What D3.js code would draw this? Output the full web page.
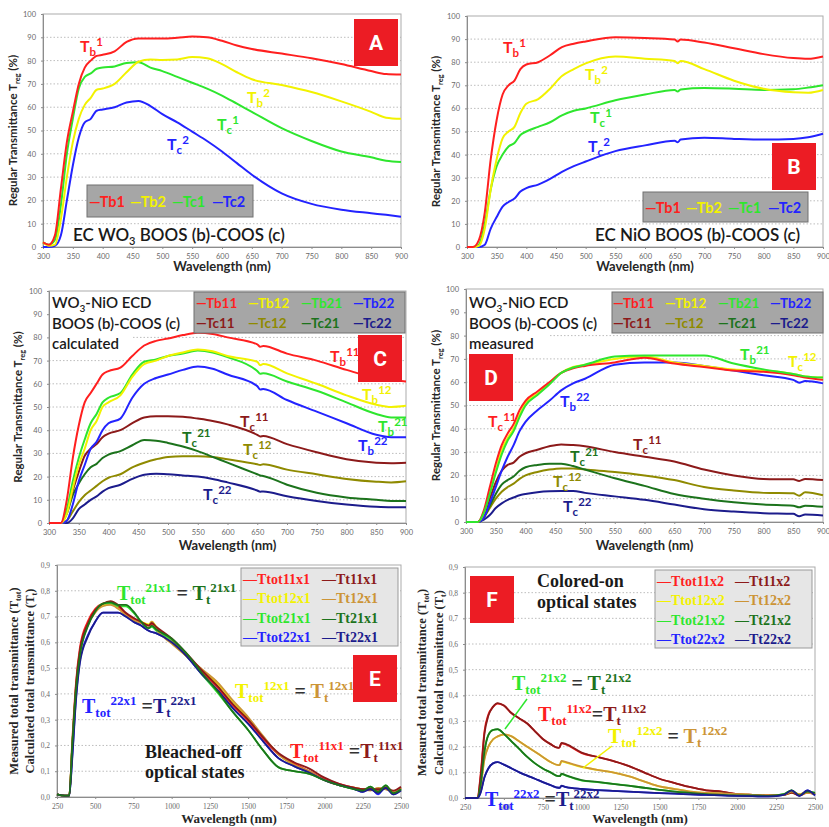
<!DOCTYPE html>
<html>
<head>
<meta charset="utf-8">
<script src="https://cdn.jsdelivr.net/npm/d3@7"></script>
<style>
  body { margin: 0; background: #fff; }
  svg { display: block; }
</style>
</head>
<body>
<svg id="chart" width="829" height="827"></svg>
<script>
// ---------- data ----------

// A : EC WO3
var wlA = [300,310,320,330,340,350,360,370,380,390,400,420,440,460,480,500,525,550,575,600,625,650,700,750,800,850,875,900];
var aTb1 = [2,1,5,25,45,58,70,77,80,82,82.5,84,88,89.5,89.5,89.5,89.8,90.3,90,88.5,86.5,85,83,81,78.5,75.5,74.2,74];
var aTb2 = [2,0.5,1,12,30,45,55,61,64,67.5,68,70,75,79.5,80.5,80.3,80.5,81.5,81,78.5,75,72,69.5,66.5,62.5,58,55.5,55];
var aTc1 = [2,1,3,18,40,55,68,73,74.5,76.5,77,77.5,79,79.3,77,75.5,73,70.5,68,65,61.5,58,51,45.5,41,38.5,37,36.5];
var aTc2 = [0,0,0.5,5,20,35,47,53.5,55,58.5,59,60,62,62.7,60.5,57,53.5,49.5,45.5,41,36,31,23,18.5,16,14.5,13.8,13];

// B : EC NiO
var wlB = [300,310,320,330,340,350,360,370,380,390,400,420,440,460,480,500,550,600,650,655,660,700,750,800,850,875,900];
var bTb1 = [0,0,3,15,38,55,66,70,72,77,79,80,83,86.5,88,89,90.8,90.5,89.8,89,89.8,88.5,86,83.5,81.8,81.5,82.5];
var bTb2 = [0,0,0.5,8,25,38,47,50,52,58,62,64,68.5,74,77,79.5,82.5,81.5,80.5,79.5,80.5,77,72,68.5,67,66.8,68];
var bTc1 = [0,0,1,10,25,35,40,43.5,45,48.5,50,52,54,57,59,60,63.5,66,68,67.3,68.2,68.8,68.5,68,68.3,69,70];
var bTc2 = [0,0,0,1,8,13,17.5,19.5,21,24,25.5,27,29.5,32.5,35,37,41.5,44,46,45.3,46.5,47.3,46.8,46.5,46.8,47.5,49];

// C : WO3-NiO ECD calculated
var wlC = [300,320,330,340,350,360,370,380,390,400,420,440,460,480,500,525,550,575,600,650,655,660,700,750,800,850,875,900];
var cTb11 = [0,0,10,28,42,52,56,60,64,65.5,67,72,76.5,78.5,79.5,81,82,81.5,80,77,76,76.3,73,70,66,62.5,61.5,61];
var cTb12 = [0,0,4,15,25,32,40,44,50,52,55,63,68.5,70,72,73.5,74.8,74,72,69.5,68,68.5,64.5,60,55,51,50,50.5];
var cTb21 = [0,0,6,18,28,36,43,47,52,54,56,64,69.5,70.5,72,73,74.3,73.5,71.5,65.5,64.3,64.5,61,57,52,47,45.5,45.5];
var cTb22 = [0,0,1,8,18,25,32,35,40,43,45,54,60,62.5,64,66,67.5,66.5,64,59,57.5,57.8,53,48,43,38,37,37];
var cTc11 = [0,0,5,14,22,29,32,34,37,38.5,40,43,45.5,46,46,45.8,45,44,42.5,38,37.3,37.5,34,30.5,27.5,26,25.8,26];
var cTc12 = [0,0,1,5,9,12,14,16,18,19.5,21,24,26,27.5,28.5,28.8,28.8,28.5,27.5,25.3,25,25.3,23,21,19,17.8,17.5,18];
var cTc21 = [0,0,4,12,17,21,24,25.5,28,29.5,31,33.5,35.8,35.5,34.5,33,31,28.5,26,21,20.5,20.3,16.5,13,11,10,9.5,9.5];
var cTc22 = [0,0,0,2,6,8,10,11.5,13.5,15,16.5,19,20.8,21.2,21,20.5,20,19,17.5,14,13.5,13.6,11.5,9.5,8,7,6.8,6.8];

// D : WO3-NiO ECD measured
var wlD = [300,320,330,340,350,360,370,380,390,400,420,440,460,480,500,550,600,650,700,750,800,850,860,870,900];
var dTb11 = [0,0,5,15,25,33,38,42,48,52,56,60,64,66,67,68.5,70.5,68,66.5,65,64.5,63,62.5,62,61];
var dTb12 = [0,0,4,13,22,31,36,40,46,51,55,59.5,64,66.5,67.5,70,71,68.5,67,65.5,65,63.5,63,62.5,62];
var dTb21 = [0,0,4,12,21,29,35,39,45,50,54.5,59,64,66.3,67.5,71,71.5,71.5,71.5,68,65.5,63.5,63,62.5,62];
var dTb22 = [0,0,2,8,15,22,28,33,39,43,48,52,56.5,59.5,61.5,67.5,68.5,68.5,67,65,63,61,59.8,60.5,59.5];
var dTc11 = [0,0,3,10,17,22,24.5,25.5,28,29.5,31,32.5,33.3,33,32.5,30,28,26,22.5,20,18.5,18.3,17.6,18.5,18];
var dTc12 = [0,0,2,6,10,13,15,16.5,18.5,20,21.5,22.5,23,23,22.5,21.5,20,18,15,13.5,12.5,12.3,11.3,12.8,11.5];
var dTc21 = [0,0,2,7,12,16,18,19.5,22,23.5,24.5,25,25,24,22.5,18.8,15.5,12,10,8.5,7.5,7,6.3,7,6.5];
var dTc22 = [0,0,1,3,6,8,9.5,10.5,11.5,12,12.8,13.2,13.3,13.3,12.5,11,9.5,7.5,5.5,4.5,3.8,3.5,2.5,3.2,2.8];

// E : bleached-off total transmittance
var wlE = [250,300,330,350,375,400,450,500,550,600,650,700,750,800,850,870,900,1000,1100,1200,1300,1400,1500,1600,1700,1800,1900,2000,2100,2200,2250,2300,2350,2400,2450,2500];
var eTtot11 = [0.01,0.005,0.005,0.22,0.45,0.58,0.68,0.73,0.75,0.755,0.74,0.71,0.69,0.675,0.665,0.67,0.655,0.61,0.55,0.485,0.425,0.355,0.295,0.225,0.165,0.13,0.1,0.07,0.05,0.035,0.03,0.035,0.025,0.04,0.02,0.035];
var eTt11 = [0.01,0.005,0.005,0.2,0.44,0.57,0.67,0.725,0.75,0.76,0.745,0.715,0.695,0.68,0.665,0.675,0.66,0.615,0.555,0.49,0.43,0.36,0.3,0.23,0.17,0.135,0.11,0.075,0.05,0.035,0.03,0.03,0.03,0.035,0.025,0.04];
var eTtot12 = [0.01,0.005,0.005,0.2,0.43,0.56,0.67,0.72,0.745,0.75,0.735,0.71,0.69,0.68,0.67,0.68,0.66,0.6,0.545,0.49,0.44,0.37,0.305,0.23,0.165,0.125,0.1,0.065,0.045,0.035,0.03,0.03,0.025,0.035,0.02,0.03];
var eTt12 = [0.01,0.005,0.005,0.2,0.42,0.55,0.665,0.715,0.74,0.745,0.73,0.705,0.685,0.675,0.665,0.68,0.65,0.595,0.545,0.495,0.445,0.375,0.31,0.235,0.165,0.125,0.1,0.065,0.045,0.035,0.03,0.025,0.035,0.03,0.02,0.035];
var eTtot21 = [0.01,0.005,0.005,0.21,0.43,0.56,0.665,0.72,0.75,0.75,0.74,0.74,0.715,0.68,0.655,0.66,0.645,0.61,0.55,0.475,0.405,0.33,0.26,0.18,0.115,0.1,0.09,0.065,0.045,0.03,0.025,0.04,0.02,0.045,0.015,0.03];
var eTt21 = [0.01,0.005,0.005,0.2,0.42,0.55,0.66,0.72,0.75,0.755,0.745,0.745,0.72,0.68,0.655,0.665,0.65,0.615,0.555,0.48,0.41,0.33,0.26,0.18,0.115,0.1,0.09,0.065,0.045,0.03,0.025,0.04,0.02,0.045,0.015,0.03];
var eTtot22 = [0.01,0.005,0.005,0.16,0.39,0.53,0.625,0.68,0.715,0.715,0.715,0.7,0.68,0.665,0.645,0.64,0.635,0.6,0.545,0.475,0.415,0.345,0.285,0.215,0.15,0.12,0.095,0.065,0.045,0.03,0.02,0.035,0.01,0.04,0.01,0.03];
var eTt22 = [0.01,0.005,0.005,0.15,0.38,0.52,0.62,0.68,0.715,0.715,0.715,0.7,0.68,0.665,0.645,0.64,0.635,0.6,0.545,0.475,0.415,0.345,0.285,0.215,0.15,0.12,0.095,0.065,0.045,0.03,0.02,0.03,0.015,0.035,0.01,0.025];

// F : colored-on total transmittance
var wlF = [250,300,330,350,375,400,430,460,500,550,600,650,700,750,800,850,860,870,900,1000,1100,1200,1300,1400,1500,1600,1700,1800,1900,2000,2100,2200,2300,2350,2400,2450,2500];
var fTtot11 = [0,0,0,0.09,0.26,0.325,0.355,0.368,0.36,0.33,0.31,0.29,0.26,0.23,0.21,0.195,0.2,0.213,0.208,0.175,0.16,0.145,0.125,0.1,0.075,0.058,0.042,0.03,0.025,0.015,0.012,0.01,0.012,0.025,0.01,0.02,0.015];
var fTt11 = [0,0,0,0.08,0.25,0.32,0.355,0.37,0.36,0.33,0.31,0.29,0.26,0.23,0.21,0.195,0.2,0.215,0.21,0.177,0.16,0.145,0.125,0.1,0.075,0.058,0.042,0.03,0.025,0.015,0.012,0.01,0.012,0.02,0.01,0.025,0.015];
var fTtot12 = [0,0,0,0.045,0.155,0.2,0.228,0.24,0.247,0.24,0.22,0.2,0.18,0.16,0.14,0.128,0.13,0.143,0.138,0.12,0.11,0.1,0.085,0.065,0.045,0.035,0.025,0.02,0.018,0.015,0.012,0.01,0.012,0.02,0.015,0.025,0.015];
var fTt12 = [0,0,0,0.04,0.15,0.2,0.228,0.24,0.248,0.24,0.22,0.2,0.18,0.16,0.14,0.128,0.13,0.145,0.14,0.122,0.11,0.1,0.085,0.065,0.045,0.035,0.025,0.02,0.018,0.015,0.012,0.01,0.012,0.025,0.015,0.02,0.015];
var fTtot21 = [0,0,0,0.055,0.185,0.245,0.265,0.267,0.25,0.22,0.19,0.16,0.135,0.115,0.1,0.085,0.085,0.093,0.087,0.068,0.062,0.055,0.048,0.04,0.032,0.025,0.02,0.015,0.012,0.01,0.01,0.008,0.015,0.03,0.01,0.025,0.02];
var fTt21 = [0,0,0,0.05,0.18,0.245,0.265,0.268,0.25,0.22,0.19,0.16,0.135,0.115,0.1,0.085,0.085,0.095,0.088,0.07,0.063,0.055,0.048,0.04,0.032,0.025,0.02,0.015,0.012,0.01,0.01,0.008,0.015,0.03,0.01,0.025,0.02];
var fTtot22 = [0,0,0,0.022,0.082,0.115,0.135,0.14,0.13,0.115,0.1,0.087,0.075,0.062,0.05,0.04,0.04,0.047,0.042,0.035,0.031,0.028,0.025,0.022,0.019,0.017,0.014,0.012,0.01,0.008,0.007,0.006,0.012,0.025,0.008,0.03,0.01];
var fTt22 = [0,0,0,0.02,0.08,0.115,0.135,0.14,0.13,0.115,0.1,0.087,0.075,0.062,0.05,0.04,0.04,0.048,0.042,0.035,0.031,0.028,0.025,0.022,0.019,0.017,0.014,0.012,0.01,0.008,0.007,0.006,0.012,0.03,0.008,0.03,0.01];

// ticks
var xTicksAD = [300,350,400,450,500,550,600,650,700,750,800,850,900];
var yTicksAD = [0,10,20,30,40,50,60,70,80,90,100];
var xTicksEF = [250,500,750,1000,1250,1500,1750,2000,2250,2500];
var yTicksEF = [0,0.1,0.2,0.3,0.4,0.5,0.6,0.7,0.8,0.9];

// ---------- styles ----------
var SANS = "Lato, 'Open Sans', sans-serif";
var SERIF = "'Liberation Serif', 'DejaVu Serif', serif";
var col = {
  red: "#ff1f1f", yellow: "#f2f200", green: "#2ee62e", blue: "#2323ff",
  dred: "#8c1a1a", olive: "#8f8a00", dgreen: "#1c731c", navy: "#1c1c8c", orange: "#cc9436"
};

var svg = d3.select("#chart");

function drawPanel(p) {
  var x = d3.scaleLinear().domain(p.xDomain).range([p.x0, p.x1]);
  var y = d3.scaleLinear().domain(p.yDomain).range([p.y1, p.y0]);
  var g = svg.append("g");

  // dotted horizontal grid
  g.selectAll("line.grid").data(p.yTicks.slice(1, -1)).join("line")
    .attr("x1", p.x0).attr("x2", p.x1)
    .attr("y1", function (d) { return y(d); }).attr("y2", function (d) { return y(d); })
    .attr("stroke", "#bdbdbd").attr("stroke-width", 1).attr("stroke-dasharray", "1.5,2");

  g.append("rect")
    .attr("x", p.x0).attr("y", p.y0).attr("width", p.x1 - p.x0).attr("height", p.y1 - p.y0)
    .attr("fill", "none").attr("stroke", "#ababab");

  var xa = g.append("g").attr("transform", "translate(0," + p.y1 + ")")
    .call(d3.axisBottom(x).tickValues(p.xTicks).tickSize(2).tickPadding(5).tickFormat(d3.format("d")));
  var ya = g.append("g").attr("transform", "translate(" + p.x0 + ",0)")
    .call(d3.axisLeft(y).tickValues(p.yTicks).tickSize(2).tickPadding(5).tickFormat(p.yFormat));
  [xa, ya].forEach(function (a) {
    a.select(".domain").attr("stroke", "#8c8c8c");
    a.selectAll(".tick line").attr("stroke", "#8c8c8c");
    a.selectAll("text").attr("font-family", p.tickFont).attr("font-size", 7.5).attr("fill", "#6a6a6a");
  });

  var line = d3.line()
    .x(function (d) { return x(d[0]); })
    .y(function (d) { return y(d[1]); })
    .curve(d3.curveMonotoneX);

  p.series.forEach(function (s) {
    g.append("path")
      .datum(p.wl.map(function (w, i) { return [w, s.values[i]]; }))
      .attr("d", line)
      .attr("fill", "none")
      .attr("stroke", s.color)
      .attr("stroke-width", p.lineWidth || 2)
      .attr("stroke-linejoin", "round");
  });

  // axis titles
  g.append("text")
    .attr("x", (p.x0 + p.x1) / 2).attr("y", p.xTitleY)
    .attr("text-anchor", "middle")
    .attr("font-family", p.titleFont).attr("font-weight", "bold").attr("font-size", 13).attr("fill", "#262626")
    .text("Wavelength (nm)");

  p.yTitles.forEach(function (yt) {
    var t = g.append("text")
      .attr("transform", "translate(" + yt.x + "," + ((p.y0 + p.y1) / 2) + ") rotate(-90)")
      .attr("text-anchor", "middle")
      .attr("font-family", p.titleFont).attr("font-weight", "bold").attr("font-size", yt.size).attr("fill", "#262626");
    t.append("tspan").text(yt.main);
    t.append("tspan").attr("dy", 3).attr("font-size", yt.size * 0.65).text(yt.sub);
    t.append("tspan").attr("dy", -3).text(yt.tail);
  });
  return g;
}

function letterBox(x, y, letter) {
  svg.append("rect").attr("x", x).attr("y", y).attr("width", 44).attr("height", 47).attr("fill", "#ec1c24");
  svg.append("text").attr("x", x + 22).attr("y", y + 31).attr("text-anchor", "middle")
    .attr("font-family", "'Liberation Sans Narrow', Roboto, sans-serif").attr("font-weight", "bold")
    .attr("font-size", 21).attr("fill", "#fff").text(letter);
}

// T with subscript and superscript (panels A-D)
function tLabel(x, y, sub, sup, color) {
  var t = svg.append("text").attr("x", x).attr("y", y)
    .attr("font-family", SANS).attr("font-weight", "bold").attr("font-size", 16).attr("fill", color);
  t.append("tspan").text("T");
  t.append("tspan").attr("dy", 4).attr("font-size", 11.5).text(sub);
  t.append("tspan").attr("dy", -10).attr("font-size", 11.5).text(sup);
}

// Ttot^code = Tt^code  (panels E-F)
function eqLabel(x, y, code, c1, c2, eq) {
  var t = svg.append("text").attr("x", x).attr("y", y)
    .attr("font-family", SERIF).attr("font-weight", "bold").attr("font-size", 20);
  t.append("tspan").attr("fill", c1).text("T");
  t.append("tspan").attr("fill", c1).attr("dy", 4).attr("font-size", 13).text("tot");
  t.append("tspan").attr("fill", c1).attr("dy", -12).attr("font-size", 13).text(code);
  t.append("tspan").attr("fill", "#333").attr("dy", 8).text(eq);
  t.append("tspan").attr("fill", c2).text("T");
  t.append("tspan").attr("fill", c2).attr("dy", 4).attr("font-size", 13).text("t");
  t.append("tspan").attr("fill", c2).attr("dy", -12).attr("font-size", 13).text(code);
}

function legendRow(items, y, font, size) {
  items.forEach(function (it) {
    svg.append("text").attr("x", it.x).attr("y", y)
      .attr("font-family", font).attr("font-weight", "bold").attr("font-size", size)
      .attr("fill", it.color).text("\u2014" + it.name);
  });
}

var tickFmtEF = function (d) { return d3.format(".1f")(d).replace(".", ","); };
var regTitle = function (x) { return [{ x: x, size: 11.5, main: "Regular Transmittance T", sub: "reg", tail: " (%)" }]; };

// ---------- panel A ----------
drawPanel({
  x0: 43, x1: 401, y0: 14, y1: 247, xDomain: [300, 900], yDomain: [0, 100],
  xTicks: xTicksAD, yTicks: yTicksAD, tickFont: SANS, titleFont: SANS, xTitleY: 271,
  yTitles: regTitle(17), wl: wlA,
  series: [
    { values: aTc2, color: col.blue }, { values: aTc1, color: col.green },
    { values: aTb2, color: col.yellow }, { values: aTb1, color: col.red }
  ]
});
tLabel(80, 52, "b", "1", col.red);
tLabel(247, 103, "b", "2", col.yellow);
tLabel(217, 130, "c", "1", col.green);
tLabel(167, 150, "c", "2", col.blue);
svg.append("rect").attr("x", 87).attr("y", 185).attr("width", 166).attr("height", 32)
  .attr("fill", "#a6a6a6").attr("stroke", "#707070");
legendRow([
  { x: 89, name: "Tb1", color: col.red }, { x: 130, name: "Tb2", color: col.yellow },
  { x: 172, name: "Tc1", color: col.green }, { x: 212, name: "Tc2", color: col.blue }
], 207, SANS, 14.5);
svg.append("text").attr("x", 73).attr("y", 241).attr("font-family", SANS).attr("font-size", 17)
  .attr("fill", "#1a1a1a").attr("font-weight", 600)
  .call(function (t) {
    t.append("tspan").text("EC WO");
    t.append("tspan").attr("dy", 4).attr("font-size", 11).text("3");
    t.append("tspan").attr("dy", -4).text(" BOOS (b)-COOS (c)");
  });
letterBox(354, 19, "A");

// ---------- panel B ----------
drawPanel({
  x0: 467, x1: 823, y0: 16, y1: 247, xDomain: [300, 900], yDomain: [0, 100],
  xTicks: xTicksAD, yTicks: yTicksAD, tickFont: SANS, titleFont: SANS, xTitleY: 271,
  yTitles: regTitle(440), wl: wlB,
  series: [
    { values: bTc2, color: col.blue }, { values: bTc1, color: col.green },
    { values: bTb2, color: col.yellow }, { values: bTb1, color: col.red }
  ]
});
tLabel(503, 53, "b", "1", col.red);
tLabel(585, 80, "b", "2", col.yellow);
tLabel(590, 123, "c", "1", col.green);
tLabel(588, 152, "c", "2", col.blue);
letterBox(772, 143, "B");
svg.append("rect").attr("x", 643).attr("y", 192).attr("width", 165).attr("height", 30)
  .attr("fill", "#a6a6a6").attr("stroke", "#707070");
legendRow([
  { x: 645, name: "Tb1", color: col.red }, { x: 686, name: "Tb2", color: col.yellow },
  { x: 728, name: "Tc1", color: col.green }, { x: 768, name: "Tc2", color: col.blue }
], 213, SANS, 14.5);
svg.append("text").attr("x", 595).attr("y", 241).attr("font-family", SANS).attr("font-size", 17)
  .attr("fill", "#1a1a1a").attr("font-weight", 600).text("EC NiO BOOS (b)-COOS (c)");

// ---------- panel C ----------
drawPanel({
  x0: 49, x1: 406, y0: 291, y1: 523, xDomain: [300, 900], yDomain: [0, 100],
  xTicks: xTicksAD, yTicks: yTicksAD, tickFont: SANS, titleFont: SANS, xTitleY: 550,
  yTitles: regTitle(22), wl: wlC,
  series: [
    { values: cTc22, color: col.navy }, { values: cTc12, color: col.olive },
    { values: cTc21, color: col.dgreen }, { values: cTc11, color: col.dred },
    { values: cTb22, color: col.blue }, { values: cTb21, color: col.green },
    { values: cTb12, color: col.yellow }, { values: cTb11, color: col.red }
  ]
});

function ecdBlock(x, word) {
  svg.append("rect").attr("x", x - 2).attr("y", 292).attr("width", 144).attr("height", 40).attr("fill", "#fff");
  svg.append("rect").attr("x", x - 2).attr("y", 332).attr("width", 82).attr("height", 20).attr("fill", "#fff");
  var t = svg.append("text").attr("x", x).attr("y", 308).attr("font-family", SANS).attr("font-weight", 600)
    .attr("font-size", 15).attr("fill", "#1a1a1a");
  t.append("tspan").text("WO");
  t.append("tspan").attr("dy", 4).attr("font-size", 10).text("3");
  t.append("tspan").attr("dy", -4).text("-NiO ECD");
  svg.append("text").attr("x", x).attr("y", 329).attr("font-family", SANS).attr("font-weight", 600)
    .attr("font-size", 15).attr("fill", "#1a1a1a").text("BOOS (b)-COOS (c)");
  svg.append("text").attr("x", x).attr("y", 349).attr("font-family", SANS).attr("font-weight", 600)
    .attr("font-size", 15).attr("fill", "#1a1a1a").text(word);
}
function ecdLegend(x0, xs) {
  svg.append("rect").attr("x", x0).attr("y", 292).attr("width", 211).attr("height", 41)
    .attr("fill", "#a6a6a6").attr("stroke", "#707070");
  legendRow([
    { x: xs[0], name: "Tb11", color: col.red }, { x: xs[1], name: "Tb12", color: col.yellow },
    { x: xs[2], name: "Tb21", color: col.green }, { x: xs[3], name: "Tb22", color: col.blue }
  ], 308, SANS, 13.5);
  legendRow([
    { x: xs[0], name: "Tc11", color: col.dred }, { x: xs[1], name: "Tc12", color: col.olive },
    { x: xs[2], name: "Tc21", color: col.dgreen }, { x: xs[3], name: "Tc22", color: col.navy }
  ], 328, SANS, 13.5);
}
ecdBlock(52, "calculated");
ecdLegend(194, [196, 248, 301, 353]);
letterBox(358, 335, "C");
tLabel(330, 362, "b", "11", col.red);
tLabel(362, 400, "b", "12", col.yellow);
tLabel(378, 432, "b", "21", col.green);
tLabel(358, 451, "b", "22", col.blue);
tLabel(240, 427, "c", "11", col.dred);
tLabel(182, 443, "c", "21", col.dgreen);
tLabel(243, 455, "c", "12", col.olive);
tLabel(203, 500, "c", "22", col.navy);

// ---------- panel D ----------
drawPanel({
  x0: 466, x1: 823, y0: 289, y1: 522, xDomain: [300, 900], yDomain: [0, 100],
  xTicks: xTicksAD, yTicks: yTicksAD, tickFont: SANS, titleFont: SANS, xTitleY: 550,
  yTitles: regTitle(440), wl: wlD,
  series: [
    { values: dTc22, color: col.navy }, { values: dTc12, color: col.olive },
    { values: dTc21, color: col.dgreen }, { values: dTc11, color: col.dred },
    { values: dTb22, color: col.blue }, { values: dTb12, color: col.yellow },
    { values: dTb11, color: col.red }, { values: dTb21, color: col.green }
  ]
});
ecdBlock(469, "measured");
ecdLegend(612, [613, 665, 718, 770]);
letterBox(469, 354, "D");
tLabel(740, 360, "b", "21", col.green);
tLabel(788, 367, "c", "12", col.yellow);
tLabel(560, 407, "b", "22", col.blue);
tLabel(488, 427, "c", "11", col.red);
tLabel(633, 450, "c", "11", col.dred);
tLabel(570, 462, "c", "21", col.dgreen);
tLabel(553, 487, "c", "12", col.olive);
tLabel(563, 512, "c", "22", col.navy);

// ---------- panel E ----------
var totTitles = function (x1, x2) {
  return [
    { x: x1, size: 12.5, main: "Measured total transmittance (T", sub: "tot", tail: ")" },
    { x: x2, size: 12.5, main: "Calculated total transmittance (T", sub: "t", tail: ")" }
  ];
};
drawPanel({
  x0: 57, x1: 401, y0: 565, y1: 797, xDomain: [250, 2500], yDomain: [0, 0.9],
  xTicks: xTicksEF, yTicks: yTicksEF, yFormat: tickFmtEF, tickFont: SERIF, titleFont: SERIF, xTitleY: 823,
  yTitles: totTitles(18, 34), wl: wlE, lineWidth: 1.8,
  series: [
    { values: eTtot22, color: col.blue }, { values: eTtot12, color: col.yellow },
    { values: eTtot11, color: col.red }, { values: eTtot21, color: col.green },
    { values: eTt12, color: col.orange }, { values: eTt11, color: col.dred },
    { values: eTt22, color: col.navy }, { values: eTt21, color: col.dgreen }
  ]
});
function totLegend(x, y, xs, tag) {
  svg.append("rect").attr("x", x).attr("y", y).attr("width", 157).attr("height", 78)
    .attr("fill", "#e6e6e6").attr("stroke", "#9a9a9a");
  [["11", col.red, col.dred], ["12", col.yellow, col.orange], ["21", col.green, col.dgreen], ["22", col.blue, col.navy]]
    .forEach(function (r, i) {
      legendRow([
        { x: xs[0], name: "Ttot" + r[0] + tag, color: r[1] },
        { x: xs[1], name: "Tt" + r[0] + tag, color: r[2] }
      ], y + 16 + i * 19.3, SERIF, 14);
    });
}
totLegend(241, 568, [243, 322], "x1");
letterBox(353, 655, "E");
eqLabel(117, 600, "21x1", col.green, col.dgreen, " = ");
eqLabel(82, 713, "22x1", col.blue, col.navy, " =");
eqLabel(235, 698, "12x1", col.yellow, col.orange, "  = ");
eqLabel(290, 758, "11x1", col.red, col.dred, " =");
svg.append("text").attr("x", 145).attr("y", 758).attr("font-family", SERIF).attr("font-weight", "bold")
  .attr("font-size", 18).attr("fill", "#1a1a1a").text("Bleached-off");
svg.append("text").attr("x", 145).attr("y", 778).attr("font-family", SERIF).attr("font-weight", "bold")
  .attr("font-size", 18).attr("fill", "#1a1a1a").text("optical states");

// ---------- panel F ----------
drawPanel({
  x0: 465, x1: 815, y0: 567, y1: 798, xDomain: [250, 2500], yDomain: [0, 0.9],
  xTicks: xTicksEF, yTicks: yTicksEF, yFormat: tickFmtEF, tickFont: SERIF, titleFont: SERIF, xTitleY: 823,
  yTitles: totTitles(426, 443), wl: wlF, lineWidth: 1.8,
  series: [
    { values: fTtot11, color: col.red }, { values: fTtot12, color: col.yellow },
    { values: fTtot21, color: col.green }, { values: fTtot22, color: col.blue },
    { values: fTt11, color: col.dred }, { values: fTt12, color: col.orange },
    { values: fTt21, color: col.dgreen }, { values: fTt22, color: col.navy }
  ]
});
totLegend(655, 570, [657, 735], "x2");
letterBox(470, 576, "F");
svg.append("text").attr("x", 537).attr("y", 587).attr("font-family", SERIF).attr("font-weight", "bold")
  .attr("font-size", 18).attr("fill", "#1a1a1a").text("Colored-on");
svg.append("text").attr("x", 537).attr("y", 608).attr("font-family", SERIF).attr("font-weight", "bold")
  .attr("font-size", 18).attr("fill", "#1a1a1a").text("optical states");
eqLabel(512, 690, "21x2", col.green, col.dgreen, " = ");
eqLabel(538, 721, "11x2", col.red, col.dred, "=");
eqLabel(608, 743, "12x2", col.yellow, col.orange, " = ");
eqLabel(485, 806, "22x2", col.blue, col.navy, " =");
svg.append("line").attr("x1", 527).attr("y1", 699).attr("x2", 505).attr("y2", 729)
  .attr("stroke", col.green).attr("stroke-width", 1.5);
svg.append("line").attr("x1", 612).attr("y1", 746).attr("x2", 583).attr("y2", 768)
  .attr("stroke", col.yellow).attr("stroke-width", 1.5);
</script>
</body>
</html>
